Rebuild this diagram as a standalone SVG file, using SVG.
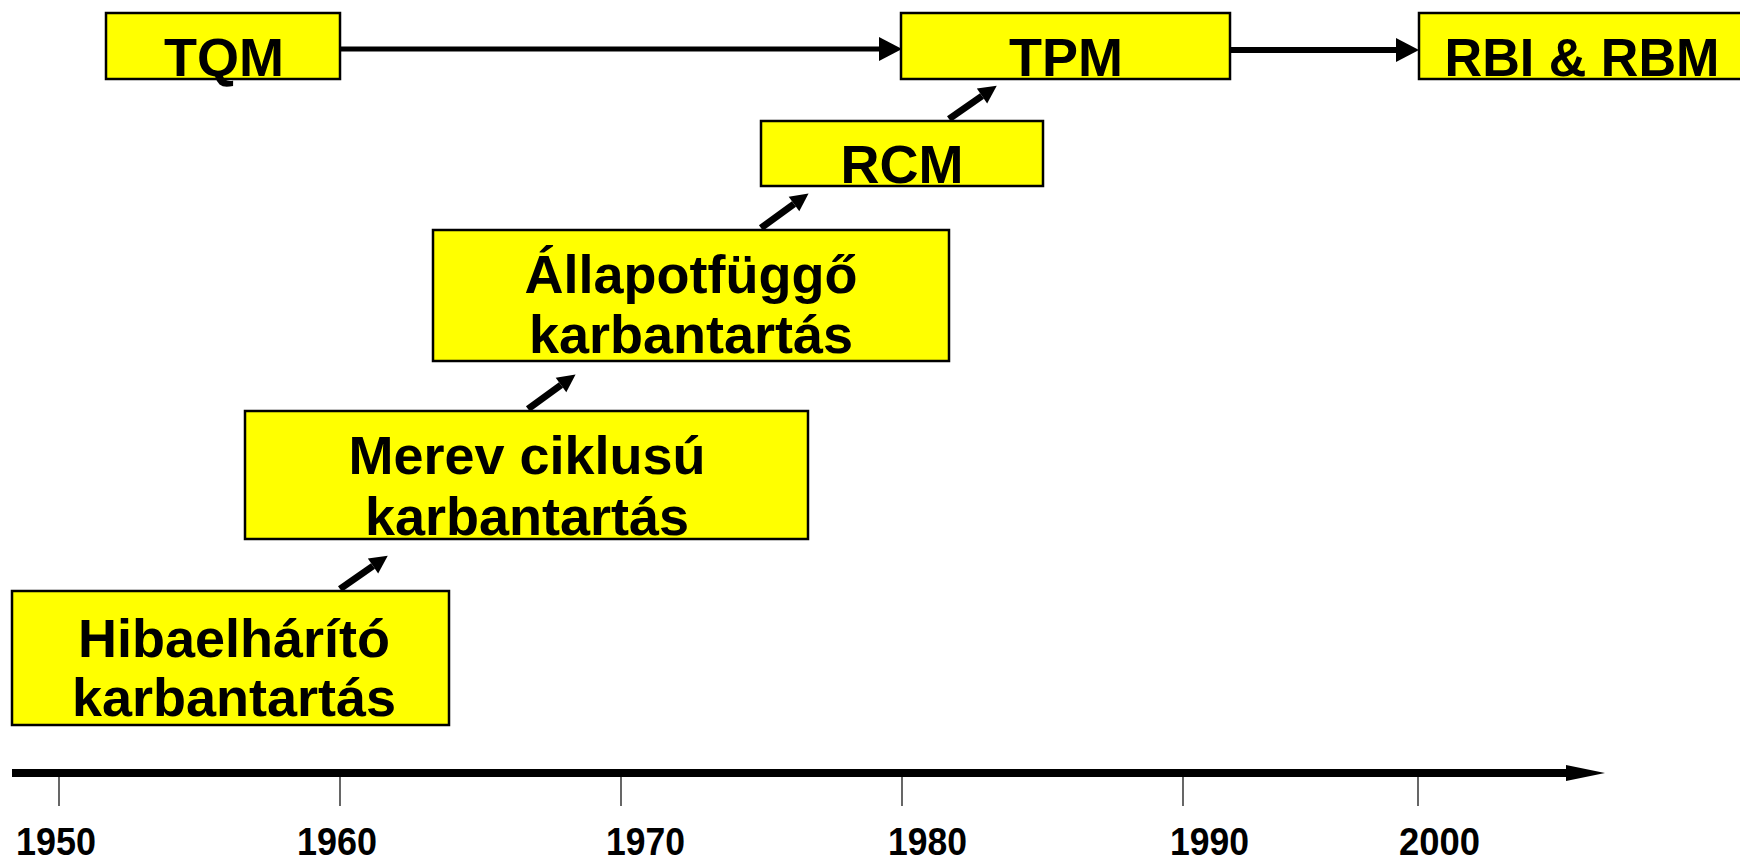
<svg xmlns="http://www.w3.org/2000/svg" width="1740" height="858" viewBox="0 0 1740 858">
<style>
.box{fill:#ffff00;stroke:#000;stroke-width:2.5}
.t{font-family:"Liberation Sans",Arial,sans-serif;font-weight:bold;font-size:54px;fill:#000;text-anchor:middle}
.yr{font-family:"Liberation Sans",Arial,sans-serif;font-weight:bold;font-size:38px;fill:#000}
.ln{stroke:#000;fill:none}
.tick{stroke:#000;stroke-width:1.2}
</style>
<defs>
<marker id="ah" markerUnits="userSpaceOnUse" markerWidth="30" markerHeight="28" refX="0" refY="12" orient="auto" overflow="visible">
<path d="M0,0 L23,12 L0,24 Z" fill="#000"/>
</marker>
<marker id="ahs" markerUnits="userSpaceOnUse" markerWidth="24" markerHeight="22" refX="0" refY="9" orient="auto" overflow="visible">
<path d="M0,0 L18,9 L0,18 Z" fill="#000"/>
</marker>
<marker id="aht" markerUnits="userSpaceOnUse" markerWidth="44" markerHeight="20" refX="0" refY="8" orient="auto" overflow="visible">
<path d="M0,0 L39,8 L0,16 Z" fill="#000"/>
</marker>
</defs>
<g id="connectors">
<line class="ln" x1="340" y1="49" x2="879" y2="49" stroke-width="5" marker-end="url(#ah)"/>
<line class="ln" x1="1230" y1="50" x2="1396" y2="50" stroke-width="6" marker-end="url(#ah)"/>
<line class="ln" x1="340" y1="589" x2="373" y2="566" stroke-width="7" marker-end="url(#ahs)"/>
<line class="ln" x1="528" y1="409" x2="561" y2="385" stroke-width="7" marker-end="url(#ahs)"/>
<line class="ln" x1="761" y1="228" x2="794" y2="204" stroke-width="7" marker-end="url(#ahs)"/>
<line class="ln" x1="949" y1="119" x2="982" y2="96" stroke-width="7" marker-end="url(#ahs)"/>
</g>
<g id="timeline">
<line class="ln" x1="12" y1="773" x2="1566" y2="773" stroke-width="8" marker-end="url(#aht)"/>
<line class="tick" x1="59" y1="777" x2="59" y2="806"/>
<line class="tick" x1="340" y1="777" x2="340" y2="806"/>
<line class="tick" x1="621" y1="777" x2="621" y2="806"/>
<line class="tick" x1="902" y1="777" x2="902" y2="806"/>
<line class="tick" x1="1183" y1="777" x2="1183" y2="806"/>
<line class="tick" x1="1418" y1="777" x2="1418" y2="806"/>
<text class="yr" x="16" y="855" textLength="80" lengthAdjust="spacingAndGlyphs">1950</text>
<text class="yr" x="297" y="855" textLength="80" lengthAdjust="spacingAndGlyphs">1960</text>
<text class="yr" x="606" y="855" textLength="79" lengthAdjust="spacingAndGlyphs">1970</text>
<text class="yr" x="888" y="855" textLength="79" lengthAdjust="spacingAndGlyphs">1980</text>
<text class="yr" x="1170" y="855" textLength="79" lengthAdjust="spacingAndGlyphs">1990</text>
<text class="yr" x="1399" y="855" textLength="81" lengthAdjust="spacingAndGlyphs">2000</text>
</g>
<g id="tqm">
<rect class="box" x="106" y="13" width="234" height="66"/>
<text class="t" x="224" y="76">TQM</text>
</g>
<g id="tpm">
<rect class="box" x="901" y="13" width="329" height="66"/>
<text class="t" x="1066" y="76">TPM</text>
</g>
<g id="rbi">
<rect class="box" x="1419" y="13" width="330" height="66"/>
<text class="t" x="1582" y="76" textLength="275" lengthAdjust="spacingAndGlyphs">RBI &amp; RBM</text>
</g>
<g id="rcm">
<rect class="box" x="761" y="121" width="282" height="65"/>
<text class="t" x="902" y="183">RCM</text>
</g>
<g id="allapot">
<rect class="box" x="433" y="230" width="516" height="131"/>
<text class="t" x="691" y="293">Állapotfüggő</text>
<text class="t" x="691" y="353">karbantartás</text>
</g>
<g id="merev">
<rect class="box" x="245" y="411" width="563" height="128"/>
<text class="t" x="527" y="474">Merev ciklusú</text>
<text class="t" x="527" y="535">karbantartás</text>
</g>
<g id="hiba">
<rect class="box" x="12" y="591" width="437" height="134"/>
<text class="t" x="234" y="657">Hibaelhárító</text>
<text class="t" x="234" y="716">karbantartás</text>
</g>
</svg>
